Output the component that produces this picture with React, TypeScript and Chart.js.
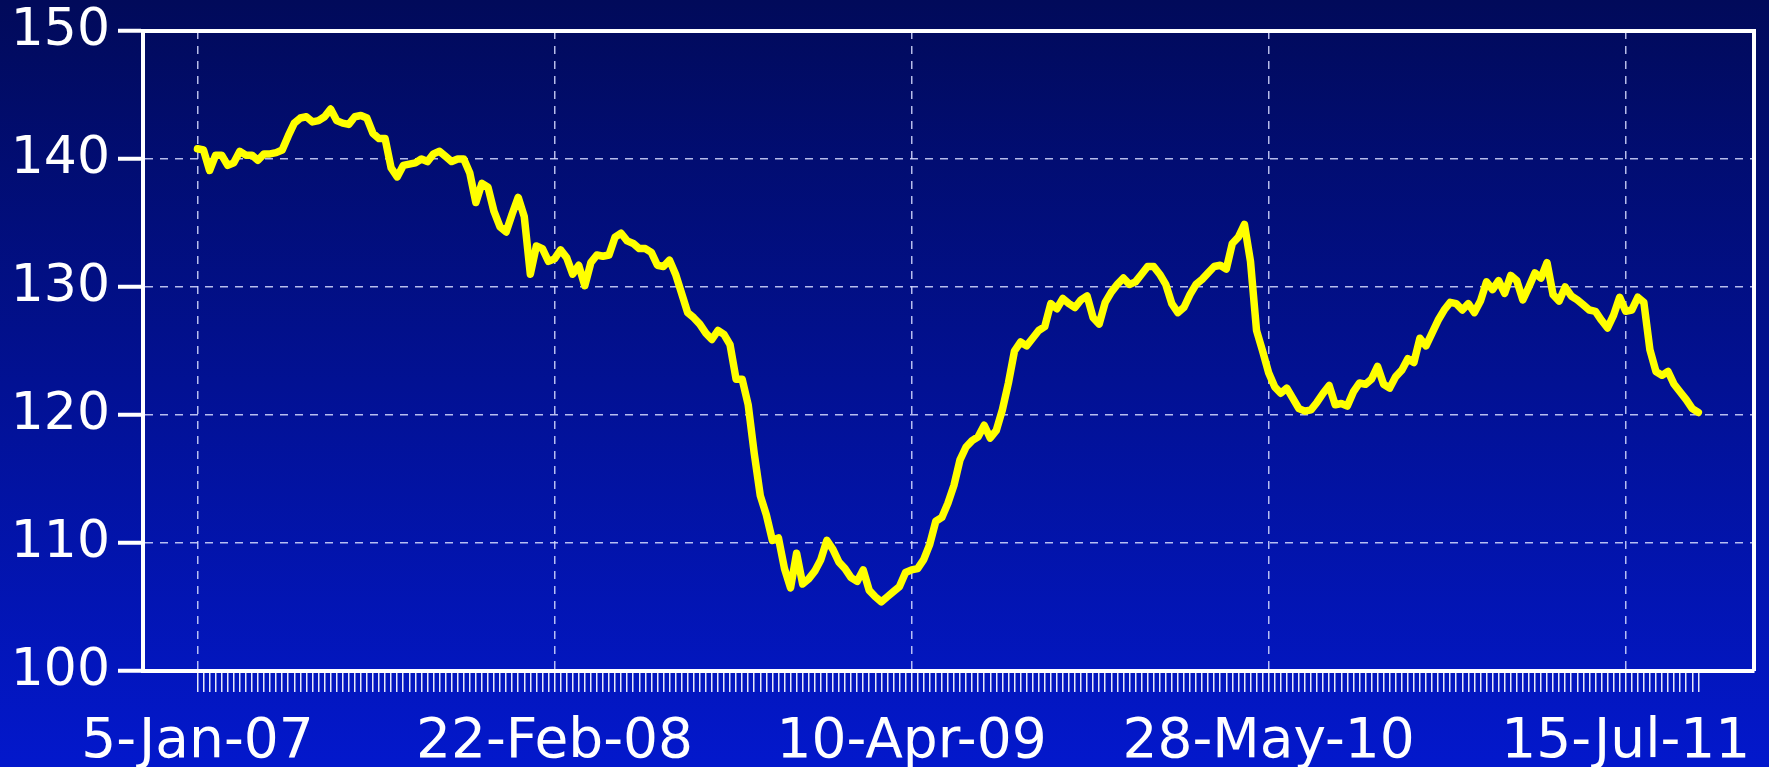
import React, { useEffect, useRef } from "react";
import { Chart, registerables } from "chart.js";

Chart.register(...registerables);

// Weekly index values, 5-Jan-07 .. 7-Oct-11 (249 weeks)
const values: number[] = [
  140.8, 140.7, 139.1, 140.3, 140.3, 139.5, 139.7, 140.6, 140.3, 140.3,
  139.9, 140.4, 140.4, 140.5, 140.7, 141.8, 142.8, 143.2, 143.3, 142.9,
  143.0, 143.3, 143.9, 143.0, 142.8, 142.7, 143.3, 143.4, 143.2, 142.0,
  141.6, 141.6, 139.3, 138.6, 139.5, 139.6, 139.7, 140.0, 139.8, 140.4,
  140.6, 140.2, 139.8, 140.0, 140.0, 138.9, 136.6, 138.1, 137.8, 135.9,
  134.7, 134.3, 135.7, 137.0, 135.5, 131.0, 133.2, 133.0, 132.0, 132.2,
  132.9, 132.3, 131.0, 131.7, 130.1, 131.9, 132.5, 132.4, 132.5, 133.9,
  134.2, 133.6, 133.4, 133.0, 133.0, 132.7, 131.7, 131.6, 132.1, 131.0,
  129.5, 128.0, 127.6, 127.1, 126.4, 125.9, 126.6, 126.3, 125.5, 122.8,
  122.8, 120.8, 117.0, 113.7, 112.2, 110.2, 110.4, 108.0, 106.5, 109.2,
  106.8, 107.2, 107.8, 108.7, 110.2, 109.5, 108.5, 108.0, 107.3, 107.0,
  107.9, 106.3, 105.8, 105.4, 105.8, 106.2, 106.6, 107.7, 107.9, 108.0,
  108.7, 109.9, 111.7, 112.0, 113.1, 114.5, 116.5, 117.5, 118.0, 118.3,
  119.2, 118.2, 118.8, 120.4, 122.5, 125.0, 125.7, 125.4, 126.0, 126.6,
  126.9, 128.7, 128.3, 129.1, 128.7, 128.4, 129.0, 129.3, 127.6, 127.1,
  128.8, 129.6, 130.2, 130.7, 130.2, 130.4, 131.0, 131.6, 131.6, 131.0,
  130.2, 128.7, 128.0, 128.4, 129.4, 130.2, 130.6, 131.1, 131.6, 131.7,
  131.4, 133.4, 133.9, 134.9, 132.0, 126.6, 125.0, 123.3, 122.2, 121.7,
  122.1, 121.3, 120.5, 120.3, 120.4, 121.0, 121.7, 122.3, 120.8, 120.9,
  120.7, 121.8, 122.5, 122.4, 122.8, 123.8, 122.4, 122.1, 123.0, 123.5,
  124.4, 124.1, 126.0, 125.4, 126.4, 127.4, 128.2, 128.8, 128.7, 128.2,
  128.7, 128.0, 128.9, 130.4, 129.8, 130.5, 129.5, 130.9, 130.5, 129.0,
  130.0, 131.1, 130.7, 131.9, 129.4, 128.9, 130.0, 129.3, 129.0, 128.6,
  128.2, 128.1, 127.4, 126.8, 127.8, 129.2, 128.1, 128.2, 129.2, 128.8,
  125.1, 123.4, 123.1, 123.4, 122.4, 121.8, 121.2, 120.5, 120.2,
];

const tickLabels: string[] = ["5-Jan-07", "22-Feb-08", "10-Apr-09", "28-May-10", "15-Jul-11"];
const tickWeeks: number[] = [0, 59, 118, 177, 236];
const yMin = 100;
const yMax = 150;
const yStep = 10;

const GRID = "rgba(215,220,255,0.85)";
const FONT = "'DejaVu Sans', Verdana, sans-serif";

const bgPlugin = {
  id: "bgGradient",
  beforeDraw(chart: any) {
    const { ctx, width, height } = chart;
    const g = ctx.createLinearGradient(0, 0, 0, height);
    g.addColorStop(0, "#010a5a");
    g.addColorStop(1, "#0318cc");
    ctx.save();
    ctx.fillStyle = g;
    ctx.fillRect(0, 0, width, height);
    ctx.restore();
  },
};

const boxPlugin = {
  id: "frameBox",
  afterDraw(chart: any) {
    const { ctx, chartArea } = chart;
    ctx.save();
    ctx.strokeStyle = "#ffffff";
    ctx.lineWidth = 4;
    ctx.setLineDash([]);
    ctx.beginPath();
    ctx.moveTo(chartArea.left, chartArea.top);
    ctx.lineTo(chartArea.right, chartArea.top);
    ctx.lineTo(chartArea.right, chartArea.bottom);
    ctx.stroke();
    ctx.restore();
  },
};

export default function App() {
  const ref = useRef<HTMLCanvasElement | null>(null);

  useEffect(() => {
    document.body.style.margin = "0";
    const canvas = ref.current;
    if (!canvas) return;
    const chart = new Chart(canvas, {
      type: "line",
      data: {
        datasets: [
          {
            data: values.map((v, i) => ({ x: i, y: v })),
            borderColor: "#ffff00",
            borderWidth: 7.5,
            pointRadius: 0,
            tension: 0,
            borderJoinStyle: "round",
            borderCapStyle: "round",
            fill: false,
          },
        ],
      },
      options: {
        animation: false,
        responsive: false,
        events: [],
        layout: { padding: { top: 31, right: 15, left: 0, bottom: 0 } },
        plugins: { legend: { display: false }, tooltip: { enabled: false } },
        scales: {
          x: {
            type: "linear",
            min: -9,
            max: 257.2,
            afterBuildTicks: (s: any) => {
              s.ticks = values.map((_, i) => ({ value: i }));
            },
            afterFit: (s: any) => {
              s.height = 96;
            },
            ticks: {
              autoSkip: false,
              maxRotation: 0,
              minRotation: 0,
              color: "#ffffff",
              padding: 18,
              font: { family: FONT, size: 55 },
              callback: (v: any) => {
                const k = tickWeeks.indexOf(Number(v));
                return k >= 0 ? tickLabels[k] : "";
              },
            },
            grid: {
              color: (c: any) =>
                c.tick && tickWeeks.includes(c.tick.value) ? GRID : "rgba(0,0,0,0)",
              lineWidth: 1.5,
              tickColor: "rgba(255,255,255,0.9)",
              tickWidth: 1.5,
              tickLength: 21,
            },
            border: { color: "#ffffff", width: 4, dash: [8, 7] },
          },
          y: {
            min: yMin,
            max: yMax,
            afterFit: (s: any) => {
              s.width = 143;
            },
            ticks: {
              stepSize: yStep,
              color: "#ffffff",
              padding: 8,
              font: { family: FONT, size: 52, lineHeight: 0.8 },
            },
            grid: {
              color: GRID,
              lineWidth: 1.5,
              tickColor: "#ffffff",
              tickWidth: 4,
              tickLength: 25,
            },
            border: { color: "#ffffff", width: 4, dash: [8, 7] },
          },
        },
      },
      plugins: [bgPlugin, boxPlugin],
    } as any);
    return () => chart.destroy();
  }, []);

  return (
    <div style={{ width: 1769, height: 767 }}>
      <canvas ref={ref} width={1769} height={767} style={{ display: "block" }} />
    </div>
  );
}
